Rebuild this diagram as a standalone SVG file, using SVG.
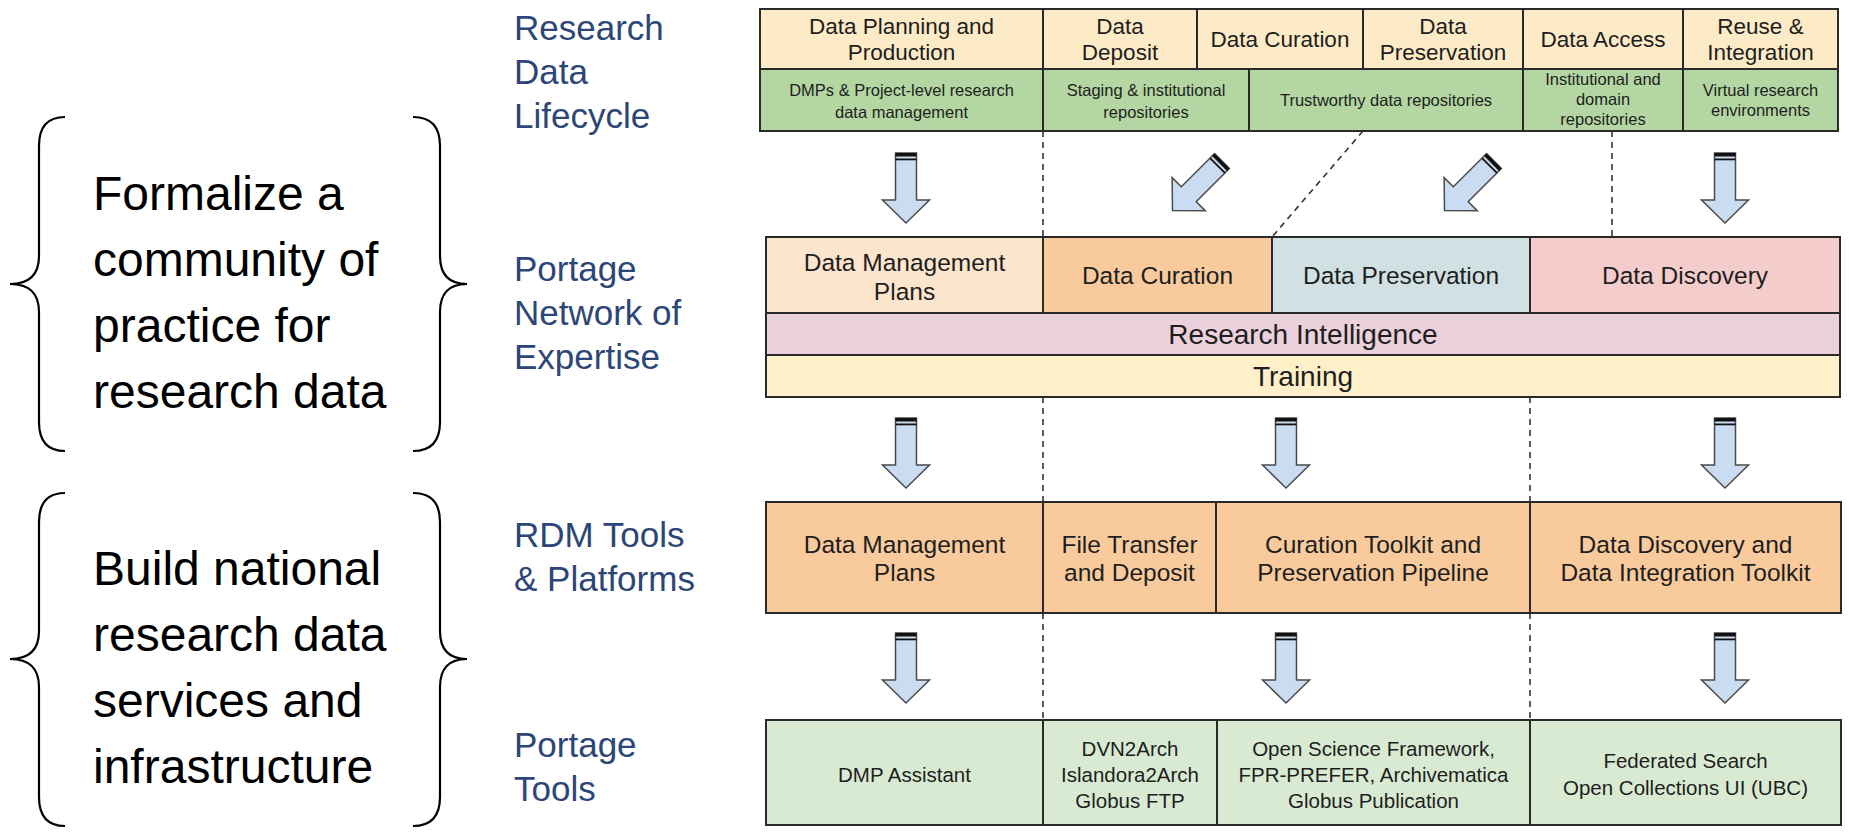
<svg xmlns="http://www.w3.org/2000/svg" xmlns:xlink="http://www.w3.org/1999/xlink" width="1849" height="833" viewBox="0 0 1849 833">
<style>
text{font-family:"Liberation Sans",Arial,Helvetica,sans-serif;text-anchor:middle;fill:#1e1e1e}
.lbl{font-size:35px;fill:#2c4677;text-anchor:start}
.big{font-size:48px;fill:#000;text-anchor:start}
.t22{font-size:22.5px}
.t16{font-size:16.5px}
.t24{font-size:24.5px}
.t27{font-size:28px}
.t19{font-size:20.5px}
.cell{stroke:#2a2a2a;stroke-width:2}
.dash{stroke:#333;stroke-width:1.6;stroke-dasharray:6 5;fill:none}
.brace{fill:none;stroke:#000;stroke-width:2.2}
.cream{fill:#fcebc6}
.green{fill:#b3d6a2}
.peach{fill:#fce5cd}
.orange{fill:#f9cb9c}
.cyan{fill:#d0e0e3}
.pink{fill:#f4cccc}
.mauve{fill:#ead1dc}
.yellow{fill:#fef1ca}
.lgreen{fill:#d9ead3}
</style>
<defs>
<g id="arr">
<path d="M-10.5 0H10.5V47H23.5L0 70L-23.5 47H-10.5Z" fill="#cadcf2" stroke="#4a4a4a" stroke-width="1.5"/>
<rect x="-10.5" y="0" width="21" height="3.5" fill="#111"/>
<rect x="-10.5" y="5.5" width="21" height="1.8" fill="#111"/>
</g>
</defs>
<rect width="1849" height="833" fill="#fff"/>

<!-- braces and goals -->
<g id="goal-community">
<path class="brace" d="M65 117Q39 117 39 146V256Q39 284 10 284Q39 284 39 312V422Q39 451 65 451"/>
<path class="brace" d="M413 117Q440 117 440 146V256Q440 284 467 284Q440 284 440 312V422Q440 451 413 451"/>
<text class="big" x="93" y="210">Formalize a</text>
<text class="big" x="93" y="276">community of</text>
<text class="big" x="93" y="342">practice for</text>
<text class="big" x="93" y="408">research data</text>
</g>
<g id="goal-infrastructure">
<path class="brace" d="M65 493Q39 493 39 522V631Q39 659 10 659Q39 659 39 687V797Q39 826 65 826"/>
<path class="brace" d="M413 493Q440 493 440 522V631Q440 659 467 659Q440 659 440 687V797Q440 826 413 826"/>
<text class="big" x="93" y="585">Build national</text>
<text class="big" x="93" y="651">research data</text>
<text class="big" x="93" y="717">services and</text>
<text class="big" x="93" y="783">infrastructure</text>
</g>

<!-- row labels -->
<g id="label-lifecycle">
<text class="lbl" x="514" y="40">Research</text>
<text class="lbl" x="514" y="84">Data</text>
<text class="lbl" x="514" y="128">Lifecycle</text>
</g>
<g id="label-network">
<text class="lbl" x="514" y="281">Portage</text>
<text class="lbl" x="514" y="325">Network of</text>
<text class="lbl" x="514" y="369">Expertise</text>
</g>
<g id="label-rdm">
<text class="lbl" x="514" y="547">RDM Tools</text>
<text class="lbl" x="514" y="591">&amp; Platforms</text>
</g>
<g id="label-tools">
<text class="lbl" x="514" y="757">Portage</text>
<text class="lbl" x="514" y="801">Tools</text>
</g>

<!-- connectors -->
<g id="connectors">
<line class="dash" x1="1043" y1="131" x2="1043" y2="237"/>
<line class="dash" x1="1612" y1="131" x2="1612" y2="237"/>
<line class="dash" x1="1363" y1="131" x2="1272" y2="237"/>
<line class="dash" x1="1043" y1="397" x2="1043" y2="502"/>
<line class="dash" x1="1530" y1="397" x2="1530" y2="502"/>
<line class="dash" x1="1043" y1="613" x2="1043" y2="720"/>
<line class="dash" x1="1530" y1="613" x2="1530" y2="720"/>
<use xlink:href="#arr" href="#arr" transform="translate(906 153)"/>
<use xlink:href="#arr" href="#arr" transform="translate(1222 161) rotate(45)"/>
<use xlink:href="#arr" href="#arr" transform="translate(1494 161) rotate(45)"/>
<use xlink:href="#arr" href="#arr" transform="translate(1725 153)"/>
<use xlink:href="#arr" href="#arr" transform="translate(906 418)"/>
<use xlink:href="#arr" href="#arr" transform="translate(1286 418)"/>
<use xlink:href="#arr" href="#arr" transform="translate(1725 418)"/>
<use xlink:href="#arr" href="#arr" transform="translate(906 633)"/>
<use xlink:href="#arr" href="#arr" transform="translate(1286 633)"/>
<use xlink:href="#arr" href="#arr" transform="translate(1725 633)"/>
</g>

<!-- Research data lifecycle: stages -->
<g id="lc-planning"><rect class="cell cream" x="760" y="9" width="283" height="60"/>
<text class="t22" x="901.5" y="34">Data Planning and</text><text class="t22" x="901.5" y="60">Production</text></g>
<g id="lc-deposit"><rect class="cell cream" x="1043" y="9" width="154" height="60"/>
<text class="t22" x="1120" y="34">Data</text><text class="t22" x="1120" y="60">Deposit</text></g>
<g id="lc-curation"><rect class="cell cream" x="1197" y="9" width="166" height="60"/>
<text class="t22" x="1280" y="47">Data Curation</text></g>
<g id="lc-preservation"><rect class="cell cream" x="1363" y="9" width="160" height="60"/>
<text class="t22" x="1443" y="34">Data</text><text class="t22" x="1443" y="60">Preservation</text></g>
<g id="lc-access"><rect class="cell cream" x="1523" y="9" width="160" height="60"/>
<text class="t22" x="1603" y="47">Data Access</text></g>
<g id="lc-reuse"><rect class="cell cream" x="1683" y="9" width="155" height="60"/>
<text class="t22" x="1760.5" y="34">Reuse &amp;</text><text class="t22" x="1760.5" y="60">Integration</text></g>

<g id="lc-dmps"><rect class="cell green" x="760" y="69" width="283" height="62"/>
<text class="t16" x="901.5" y="96">DMPs &amp; Project-level research</text><text class="t16" x="901.5" y="118">data management</text></g>
<g id="lc-staging"><rect class="cell green" x="1043" y="69" width="206" height="62"/>
<text class="t16" x="1146" y="96">Staging &amp; institutional</text><text class="t16" x="1146" y="118">repositories</text></g>
<g id="lc-trustworthy"><rect class="cell green" x="1249" y="69" width="274" height="62"/>
<text class="t16" x="1386" y="106">Trustworthy data repositories</text></g>
<g id="lc-institutional"><rect class="cell green" x="1523" y="69" width="160" height="62"/>
<text class="t16" x="1603" y="85">Institutional and</text><text class="t16" x="1603" y="105">domain</text><text class="t16" x="1603" y="125">repositories</text></g>
<g id="lc-virtual"><rect class="cell green" x="1683" y="69" width="155" height="62"/>
<text class="t16" x="1760.5" y="96">Virtual research</text><text class="t16" x="1760.5" y="116">environments</text></g>

<!-- Portage Network of Expertise -->
<g id="ne-dmp"><rect class="cell peach" x="766" y="237" width="277" height="76"/>
<text class="t24" x="904.5" y="271">Data Management</text><text class="t24" x="904.5" y="300">Plans</text></g>
<g id="ne-curation"><rect class="cell orange" x="1043" y="237" width="229" height="76"/>
<text class="t24" x="1157.5" y="284">Data Curation</text></g>
<g id="ne-preservation"><rect class="cell cyan" x="1272" y="237" width="258" height="76"/>
<text class="t24" x="1401" y="284">Data Preservation</text></g>
<g id="ne-discovery"><rect class="cell pink" x="1530" y="237" width="310" height="76"/>
<text class="t24" x="1685" y="284">Data Discovery</text></g>
<g id="ne-intelligence"><rect class="cell mauve" x="766" y="313" width="1074" height="42"/>
<text class="t27" x="1303" y="344">Research Intelligence</text></g>
<g id="ne-training"><rect class="cell yellow" x="766" y="355" width="1074" height="42"/>
<text class="t27" x="1303" y="386">Training</text></g>

<!-- RDM Tools & Platforms -->
<g id="rdm-dmp"><rect class="cell orange" x="766" y="502" width="277" height="111"/>
<text class="t24" x="904.5" y="553">Data Management</text><text class="t24" x="904.5" y="581">Plans</text></g>
<g id="rdm-transfer"><rect class="cell orange" x="1043" y="502" width="173" height="111"/>
<text class="t24" x="1129.5" y="553">File Transfer</text><text class="t24" x="1129.5" y="581">and Deposit</text></g>
<g id="rdm-curation"><rect class="cell orange" x="1216" y="502" width="314" height="111"/>
<text class="t24" x="1373" y="553">Curation Toolkit and</text><text class="t24" x="1373" y="581">Preservation Pipeline</text></g>
<g id="rdm-discovery"><rect class="cell orange" x="1530" y="502" width="311" height="111"/>
<text class="t24" x="1685.5" y="553">Data Discovery and</text><text class="t24" x="1685.5" y="581">Data Integration Toolkit</text></g>

<!-- Portage Tools -->
<g id="pt-dmp"><rect class="cell lgreen" x="766" y="720" width="277" height="105"/>
<text class="t19" x="904.5" y="782">DMP Assistant</text></g>
<g id="pt-transfer"><rect class="cell lgreen" x="1043" y="720" width="174" height="105"/>
<text class="t19" x="1130" y="756">DVN2Arch</text><text class="t19" x="1130" y="782">Islandora2Arch</text><text class="t19" x="1130" y="808">Globus FTP</text></g>
<g id="pt-curation"><rect class="cell lgreen" x="1217" y="720" width="313" height="105"/>
<text class="t19" x="1373.5" y="756">Open Science Framework,</text><text class="t19" x="1373.5" y="782">FPR-PREFER, Archivematica</text><text class="t19" x="1373.5" y="808">Globus Publication</text></g>
<g id="pt-discovery"><rect class="cell lgreen" x="1530" y="720" width="311" height="105"/>
<text class="t19" x="1685.5" y="768">Federated Search</text><text class="t19" x="1685.5" y="795">Open Collections UI (UBC)</text></g>
</svg>
